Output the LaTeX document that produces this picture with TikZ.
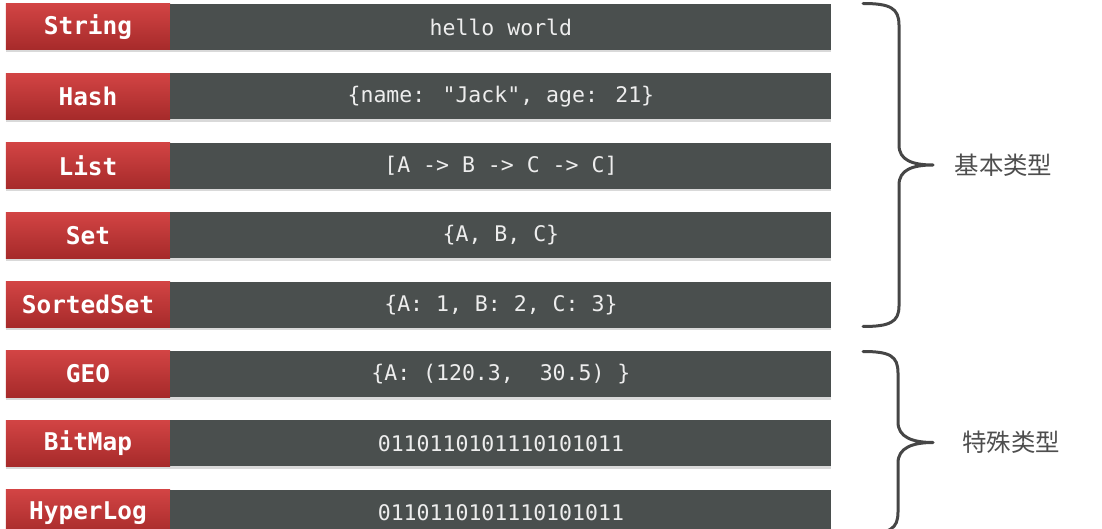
\documentclass[tikz,border=0pt]{standalone}
\usepackage{fontspec}
\usetikzlibrary{shadows}
\newfontfamily\labfont{DejaVu Sans Mono}
\newfontfamily\cjk{Noto Sans CJK SC}
\definecolor{redtop}{HTML}{D24444}
\definecolor{redbot}{HTML}{A62A2A}
\definecolor{darkbox}{HTML}{4A4F4E}
\definecolor{bracecol}{HTML}{464646}
\definecolor{cjkcol}{HTML}{4E4E4E}
\definecolor{datatext}{HTML}{EDEDED}
\tikzset{
  redbox/.style={minimum width=164bp, minimum height=46bp, inner sep=0pt,
    top color=redtop, bottom color=redbot, text=white,
    drop shadow={shadow xshift=0bp, shadow yshift=-2.5bp, opacity=0.3},
    font=\labfont\bfseries\fontsize{24.5}{24.5}\selectfont},
  databox/.style={minimum width=661bp, minimum height=46bp, inner sep=0pt,
    fill=darkbox, text=datatext, anchor=west,
    drop shadow={shadow xshift=0bp, shadow yshift=-2.5bp, opacity=0.3},
    font=\labfont\fontsize{21.6}{21.6}\selectfont},
  bracestyle/.style={draw=bracecol, line width=3bp, line cap=round, line join=round},
  cjklab/.style={text=cjkcol, font=\cjk\fontsize{24.5}{24.5}\selectfont}
}
\newcommand{\typerow}[4]{%
  \node[redbox] (l#1) at (88,#2) {#3};
  \node[databox] (d#1) at (l#1.east) {#4};}
\begin{document}
\begin{tikzpicture}[x=1bp,y=-1bp]
\useasboundingbox (0,0) rectangle (1102,529);
\typerow{1}{27}{String}{hello world}
\typerow{2}{96.4}{Hash}{\{name: "Jack", age: 21\}}
\typerow{3}{165.8}{List}{[A -> B -> C -> C]}
\typerow{4}{235.2}{Set}{\{A, B, C\}}
\typerow{5}{304.6}{SortedSet}{\{A: 1, B: 2, C: 3\}}
\typerow{6}{374}{GEO}{\{A: (120.3,~~30.5) \}}
\typerow{7}{443.4}{BitMap}{0110110101110101011}
\typerow{8}{512.8}{HyperLog}{0110110101110101011}
% braces
\draw[bracestyle] (863,3.5) .. controls (890,3.5) and (899,8) .. (899,25)
  -- (899,145) .. controls (899,160) and (912,165) .. (933,165)
  .. controls (912,165) and (899,170) .. (899,185)
  -- (899,306) .. controls (899,322) and (890,326.5) .. (863,326.5);
\draw[bracestyle] (863,351.5) .. controls (890,351.5) and (898,356) .. (898,373)
  -- (898,422) .. controls (898,437) and (912,442.5) .. (933,442.5)
  .. controls (912,442.5) and (898,448) .. (898,463)
  -- (898,512) .. controls (898,529) and (890,533.5) .. (863,533.5);
\node[cjklab] (b1) at (1003.5,165) {基本类型};
\node[cjklab] (b2) at (1011,442.5) {特殊类型};
\end{tikzpicture}
\end{document}
